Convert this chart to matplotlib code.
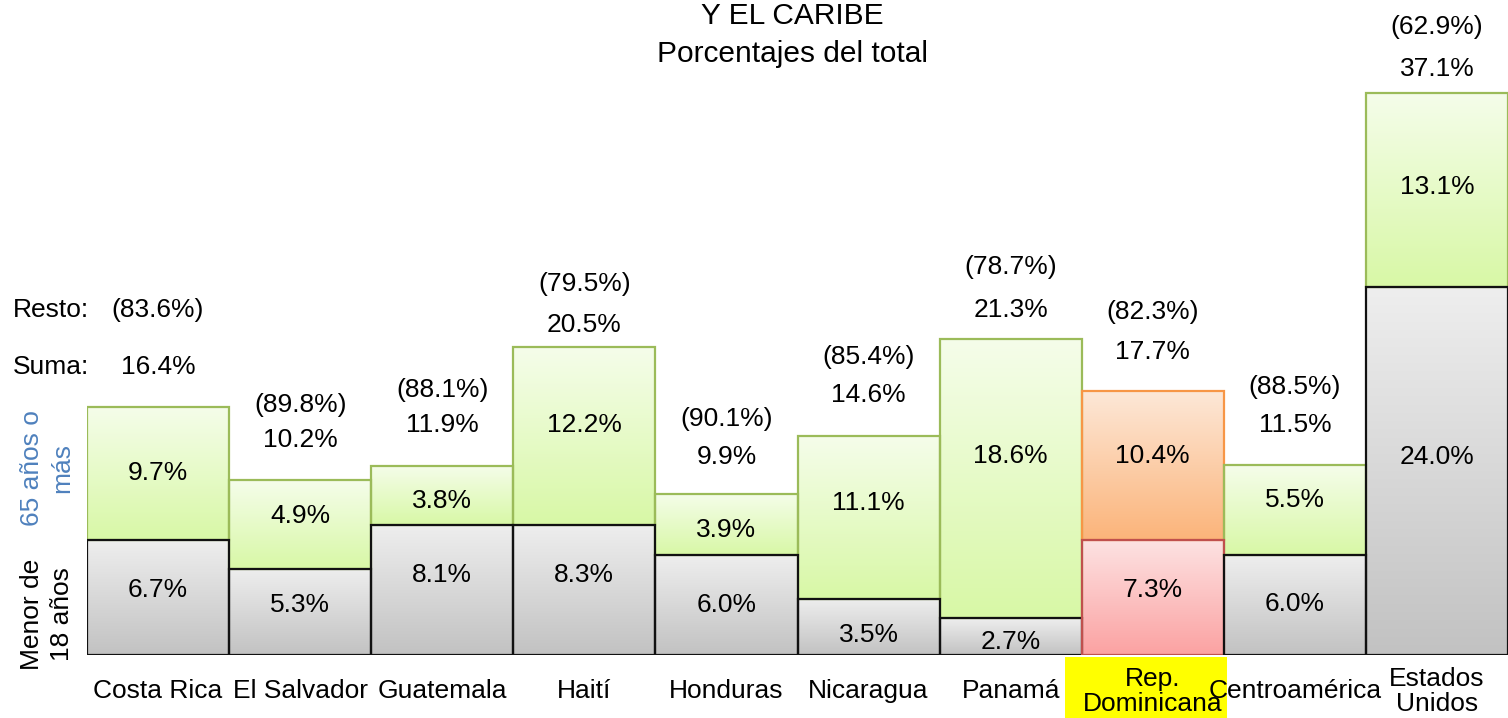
import numpy as np
import matplotlib
matplotlib.use("Agg")
import matplotlib.pyplot as plt
from matplotlib.patches import Rectangle
from matplotlib.transforms import blended_transform_factory

plt.rcParams['font.family'] = ['Liberation Sans', 'DejaVu Sans']

# ---------------- data ----------------
paises = ['Costa Rica', 'El Salvador', 'Guatemala', 'Haití', 'Honduras',
          'Nicaragua', 'Panamá', 'Rep.\nDominicana', 'Centroamérica',
          'Estados\nUnidos']
menor18 = [6.7, 5.3, 8.1, 8.3, 6.0, 3.5, 2.7, 7.3, 6.0, 24.0]
mayor65 = [9.7, 4.9, 3.8, 12.2, 3.9, 11.1, 18.6, 10.4, 5.5, 13.1]
suma = [16.4, 10.2, 11.9, 20.5, 9.9, 14.6, 21.3, 17.7, 11.5, 37.1]
resto = [83.6, 89.8, 88.1, 79.5, 90.1, 85.4, 78.7, 82.3, 88.5, 62.9]
# segment heights as drawn in the picture (percent units)
alto_menor = [7.59, 5.68, 8.58, 8.58, 6.60, 3.70, 2.44, 7.59, 6.60, 24.29]
alto_mayor = [8.80, 5.87, 3.90, 11.75, 4.03, 10.76, 18.42, 9.84, 5.94, 12.81]
destacado = 7  # Rep. Dominicana

# ---------------- layout (pixels) ----------------
W, H = 1508, 718
PXU = 15.148            # pixels per percent unit
CAPC = 9.2              # cap centre above baseline (px) for body text
off_suma = [41.7, 42, 43, 24, 39, 43, 31, 41, 42, 26]
off_resto = [98.7, 77, 78, 65, 77, 81, 74, 81, 80, 68]
off_mayor = [3, 11, -3, 13, -3, 17, 25, 12, 12, 5]
off_menor = [10, 9, 17, 17, 2, -6, -3, 10, 3, 16]

FS = 19
fig = plt.figure(figsize=(W / 100, H / 100), dpi=100)
ax = fig.add_axes([87 / W, (H - 655) / H, 1421 / W, 655 / H])
ax.set_xlim(-0.5, 9.5)
ax.set_ylim(0, 655 / PXU)
for sp in ax.spines.values():
    sp.set_visible(False)
ax.set_yticks([])

def grad(c1, c2, n=128):
    c1 = np.array(matplotlib.colors.to_rgb(c1))
    c2 = np.array(matplotlib.colors.to_rgb(c2))
    t = np.linspace(0, 1, n)[:, None]
    return (c1 * (1 - t) + c2 * t)[:, None, :]

g_gray = grad('#eeeeee', '#c2c2c2')
g_green = grad('#f5fdea', '#d8f8a6')
g_orange = grad('#fde8d8', '#fbb47a')
g_pink = grad('#fde2e2', '#fba2a2')

x = np.arange(len(paises))
top_col = ['#9bbb59'] * len(x)
top_col[destacado] = '#f79646'
bot_col = ['#111111'] * len(x)
bot_col[destacado] = '#c0504d'

bars_top = ax.bar(x, alto_mayor, bottom=alto_menor, width=1.0,
                  facecolor='none', edgecolor=top_col, linewidth=1.6, zorder=3)
bars_bot = ax.bar(x, alto_menor, width=1.0, facecolor='none',
                  edgecolor=bot_col, linewidth=1.6, zorder=4)

for i, (bt, bb) in enumerate(zip(bars_top, bars_bot)):
    gt = g_orange if i == destacado else g_green
    gb = g_pink if i == destacado else g_gray
    for b, g in ((bt, gt), (bb, gb)):
        ax.imshow(g, extent=[b.get_x(), b.get_x() + b.get_width(),
                             b.get_y(), b.get_y() + b.get_height()],
                  aspect='auto', origin='upper', zorder=1,
                  interpolation='bilinear')
ax.set_xlim(-0.5, 9.5)
ax.set_ylim(0, 655 / PXU)

# labels inside segments
for i in x:
    cm = alto_menor[i] / 2
    cy = alto_menor[i] + alto_mayor[i] / 2
    ax.annotate(f'{menor18[i]:.1f}%', (i, cm), xytext=(0, off_menor[i] - CAPC),
                textcoords='offset pixels', ha='center', va='baseline',
                fontsize=FS, zorder=6)
    ax.annotate(f'{mayor65[i]:.1f}%', (i, cy), xytext=(0, off_mayor[i] - CAPC),
                textcoords='offset pixels', ha='center', va='baseline',
                fontsize=FS, zorder=6)
    tot = alto_menor[i] + alto_mayor[i]
    ax.annotate(f'{suma[i]:.1f}%', (i, tot), xytext=(0, off_suma[i] - CAPC),
                textcoords='offset pixels', ha='center', va='baseline',
                fontsize=FS, annotation_clip=False)
    ax.annotate(f'({resto[i]:.1f}%)', (i, tot), xytext=(0, off_resto[i] - CAPC),
                textcoords='offset pixels', ha='center', va='baseline',
                fontsize=FS, annotation_clip=False)

# x tick labels
ax.set_xticks(x)
ax.set_xticklabels(paises, fontsize=FS, va='center', linespacing=1.05)
ax.tick_params(axis='x', length=0, pad=26)

# yellow highlight behind Rep. Dominicana
tr = blended_transform_factory(ax.transData, ax.transAxes)
ax.add_patch(Rectangle((destacado - 0.615, -63 / 655), 1.135, 61 / 655,
                       transform=tr, facecolor='#ffff00', edgecolor='none',
                       clip_on=False, zorder=0))

def ftext(px, py, s, **kw):
    fig.text(px / W, 1 - py / H, s, **kw)

# title
ftext(792.5, 14 + 10.5, 'Y EL CARIBE', ha='center', va='baseline', fontsize=21.5)
ftext(792.5, 52 + 10.5, 'Porcentajes del total', ha='center', va='baseline', fontsize=21.5)

# left annotations
ftext(13, 308 + CAPC, 'Resto:', ha='left', va='baseline', fontsize=FS)
ftext(13, 365 + CAPC, 'Suma:', ha='left', va='baseline', fontsize=FS)
ftext(47, 468, '65 años o\nmás', ha='center', va='center', rotation=90,
      fontsize=FS, color='#4f81bd', linespacing=1.3)
ftext(47, 614, 'Menor de\n18 años', ha='center', va='center', rotation=90,
      fontsize=FS, color='black', linespacing=1.3)

fig.savefig('out.png', dpi=100)
